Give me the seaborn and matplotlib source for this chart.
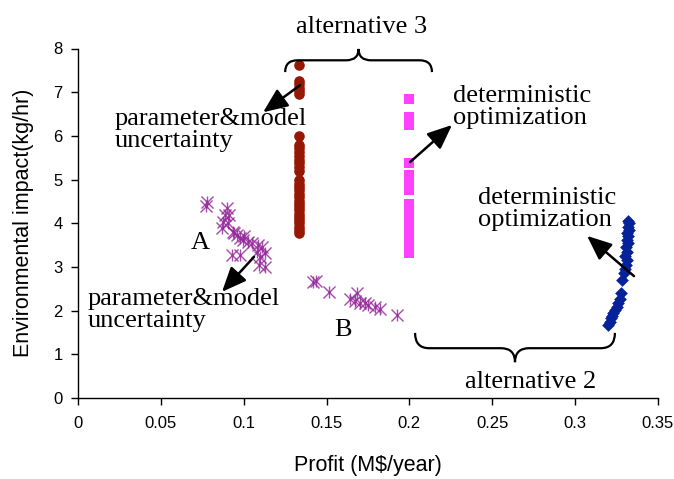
import numpy as np
import pandas as pd
import matplotlib
matplotlib.use("Agg")
import matplotlib.pyplot as plt
from matplotlib.path import Path
from matplotlib.patches import PathPatch
import seaborn as sns

# ---------------- data ----------------
# alternative 3, parameter & model uncertainty (maroon circles)
alt3_unc_x = [0.1331] * 32
alt3_unc_y = [7.62, 7.25, 7.18, 7.10, 7.02, 6.95, 6.00, 5.80, 5.72, 5.63, 5.55, 5.45,
              5.37, 5.28, 5.20, 4.98, 4.90, 4.82, 4.75, 4.68, 4.60, 4.52, 4.45, 4.38,
              4.30, 4.22, 4.15, 4.08, 4.00, 3.92, 3.85, 3.78]

# alternative 3, deterministic optimization (magenta squares)
alt3_det_x = [0.1995] * 22
alt3_det_y = [6.85, 6.44, 6.36, 6.30, 6.24, 5.39, 5.11, 5.00, 4.90, 4.77, 4.45, 4.35,
              4.25, 4.15, 4.05, 3.95, 3.85, 3.75, 3.65, 3.55, 3.45, 3.33]

# alternative 2, deterministic optimization (blue diamonds)
alt2_det_x = [0.3200, 0.3208, 0.3215, 0.3222, 0.3230, 0.3240, 0.3250, 0.3260, 0.3270,
              0.3277, 0.3285, 0.3295, 0.3300, 0.3305, 0.3310, 0.3300, 0.3315, 0.3305,
              0.3318, 0.3310, 0.3320, 0.3315, 0.3322, 0.3318, 0.3325, 0.3320]
alt2_det_y = [1.67, 1.74, 1.82, 1.88, 1.95, 2.01, 2.08, 2.17, 2.27, 2.40, 2.70, 2.85,
              2.95, 3.05, 3.15, 3.25, 3.35, 3.45, 3.55, 3.62, 3.70, 3.78, 3.85, 3.92,
              4.00, 4.05]

# parameter & model uncertainty, cluster A (purple asterisks)
unc_A_x = [0.0780, 0.0770, 0.0897, 0.0887, 0.0877, 0.0867, 0.0906, 0.0937, 0.0958,
           0.0978, 0.0998, 0.1027, 0.1088, 0.1130, 0.1100, 0.1078, 0.1130, 0.1090,
           0.0927, 0.0978, 0.0910, 0.0940, 0.1000, 0.1050, 0.1110]
unc_A_y = [4.49, 4.40, 4.35, 4.19, 4.03, 3.89, 4.00, 3.81, 3.73, 3.66, 3.62, 3.58,
           3.50, 3.32, 3.23, 3.35, 3.00, 3.04, 3.27, 3.27, 4.20, 3.78, 3.70, 3.55, 3.45]

# parameter & model uncertainty, cluster B (purple asterisks)
unc_B_x = [0.1420, 0.1435, 0.1517, 0.1640, 0.1686, 0.1670, 0.1700, 0.1730, 0.1752,
           0.1790, 0.1820, 0.1923]
unc_B_y = [2.66, 2.68, 2.43, 2.26, 2.41, 2.23, 2.17, 2.17, 2.13, 2.09, 2.03, 1.90]

x_ticks = [0, 0.05, 0.1, 0.15, 0.2, 0.25, 0.3, 0.35]
x_tick_labels = ["0", "0.05", "0.1", "0.15", "0.2", "0.25", "0.3", "0.35"]
y_ticks = [0, 1, 2, 3, 4, 5, 6, 7, 8]

# ---------------- style ----------------
sns.set_theme(style="white")
plt.rcParams["font.family"] = ["Liberation Sans", "DejaVu Sans"]
SERIF = ["Liberation Serif", "DejaVu Serif"]

fig = plt.figure(figsize=(6.74, 4.79), dpi=100)
ax = fig.add_axes([78 / 674, 1 - 398 / 479, 580 / 674, 349.5 / 479])

c_maroon = "#961703"
c_magenta = "#FF40FF"
c_blue = "#05229A"
c_purple = "#952B9B"

sns.scatterplot(x=alt3_unc_x, y=alt3_unc_y, ax=ax, marker="o", s=58,
                color=c_maroon, edgecolor=c_maroon, linewidth=0, zorder=3)
sns.scatterplot(x=alt3_det_x, y=alt3_det_y, ax=ax, marker="s", s=50,
                color=c_magenta, edgecolor=c_magenta, linewidth=0, zorder=3)
sns.scatterplot(x=alt2_det_x, y=alt2_det_y, ax=ax, marker="D", s=42,
                color=c_blue, edgecolor=c_blue, linewidth=0, zorder=3)
unc_x = unc_A_x + unc_B_x
unc_y = unc_A_y + unc_B_y
sns.scatterplot(x=unc_x, y=unc_y, ax=ax, marker="x", s=75, color=c_purple,
                linewidth=1.0, alpha=0.85, zorder=3)
sns.scatterplot(x=unc_x, y=unc_y, ax=ax, marker="|", s=75, color=c_purple,
                linewidth=1.0, alpha=0.85, zorder=3)

ax.set_xlim(0, 0.35)
ax.set_ylim(0, 8)
ax.set_xticks(x_ticks)
ax.set_xticklabels(x_tick_labels)
ax.set_yticks(y_ticks)
for s in ["top", "right"]:
    ax.spines[s].set_visible(False)
for s in ["left", "bottom"]:
    ax.spines[s].set_color("black")
    ax.spines[s].set_linewidth(1.0)
ax.tick_params(axis="both", which="major", direction="out", length=5, width=1,
               color="black", labelsize=12, labelcolor="black", bottom=True, left=True)
ax.tick_params(axis="x", pad=8)
ax.tick_params(axis="y", pad=6)
ax.set_xlabel("Profit (M$/year)", fontsize=15.5, color="black", labelpad=17)
ax.set_ylabel("Environmental impact(kg/hr)", fontsize=15.5, color="black", labelpad=14)


# ---------------- annotations ----------------
def brace(x0, x1, y_end, y_line, y_tip, rx):
    xm = (x0 + x1) / 2
    verts = [(x0, y_end), (x0, y_line), (x0 + rx, y_line),
             (xm - rx, y_line),
             (xm, y_line), (xm, y_tip),
             (xm, y_line), (xm + rx, y_line),
             (x1 - rx, y_line),
             (x1, y_line), (x1, y_end)]
    codes = [Path.MOVETO, Path.CURVE3, Path.CURVE3,
             Path.LINETO,
             Path.CURVE3, Path.CURVE3,
             Path.CURVE3, Path.CURVE3,
             Path.LINETO,
             Path.CURVE3, Path.CURVE3]
    ax.add_patch(PathPatch(Path(verts, codes), facecolor="none", edgecolor="black",
                           lw=1.6, clip_on=False, zorder=4))


brace(0.125, 0.2136, 7.46, 7.73, 7.99, 0.0075)
brace(0.2034, 0.324, 1.49, 1.14, 0.82, 0.0085)

tfont = dict(fontsize=19, family=SERIF, color="black")
ax.text(0.1714, 8.49, "alternative 3", ha="center", va="center", clip_on=False, **tfont)
ax.text(0.2734, 0.36, "alternative 2", ha="center", va="center", **tfont)
ax.text(0.0223, 6.13, "parameter&model\nuncertainty", ha="left", va="center",
        linespacing=1.0, **tfont)
ax.text(0.2263, 6.65, "deterministic\noptimization", ha="left", va="center",
        linespacing=1.0, **tfont)
ax.text(0.2414, 4.32, "deterministic\noptimization", ha="left", va="center",
        linespacing=1.0, **tfont)
ax.text(0.006, 2.01, "parameter&model\nuncertainty", ha="left", va="center",
        linespacing=1.0, **tfont)
ax.text(0.0736, 3.55, "A", ha="center", va="center", **tfont)
ax.text(0.160, 1.56, "B", ha="center", va="center", **tfont)

aprops = dict(arrowstyle="-|>,head_length=0.75,head_width=0.32", color="black", lw=1.8,
              mutation_scale=20, shrinkA=0, shrinkB=0)
ax.annotate("", xy=(0.1117, 6.54), xytext=(0.1340, 7.16), arrowprops=aprops, zorder=5)
ax.annotate("", xy=(0.2257, 6.25), xytext=(0.2004, 5.40), arrowprops=aprops, zorder=5)
ax.annotate("", xy=(0.3072, 3.71), xytext=(0.3355, 2.79), arrowprops=aprops, zorder=5)
ax.annotate("", xy=(0.0869, 2.43), xytext=(0.1062, 3.23), arrowprops=aprops, zorder=5)

fig.savefig("out.png", dpi=100)
